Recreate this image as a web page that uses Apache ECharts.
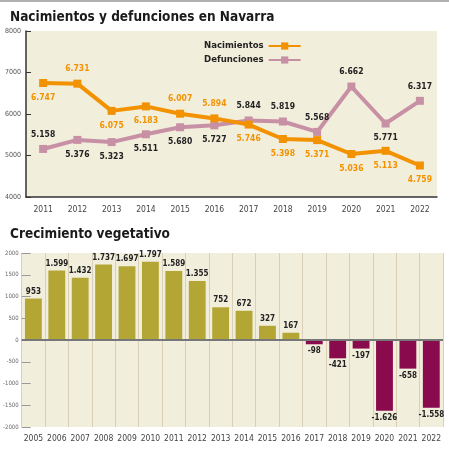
<!DOCTYPE html>
<html>
<head>
<meta charset="utf-8">
<script src="https://cdn.jsdelivr.net/npm/echarts@6/dist/echarts.min.js"></script>
<style>
  html, body { margin: 0; padding: 0; background: #fff; }
  #main { width: 449px; height: 451px; }
</style>
</head>
<body>
<div id="main"></div>
<script>
// datos
var years = ['2011','2012','2013','2014','2015','2016','2017','2018','2019','2020','2021','2022'];
var nacimientos = [6747, 6731, 6075, 6183, 6007, 5894, 5746, 5398, 5371, 5036, 5113, 4759];
var defunciones = [5158, 5376, 5323, 5511, 5680, 5727, 5844, 5819, 5568, 6662, 5771, 6317];
var posNac = ['bottom','top','bottom','bottom','top','top','bottom','bottom','bottom','bottom','bottom','bottom'];
var posDef = ['top','bottom','bottom','bottom','bottom','bottom','top','top','top','top','bottom','top'];

var yearsCrec = ['2005','2006','2007','2008','2009','2010','2011','2012','2013','2014','2015','2016','2017','2018','2019','2020','2021','2022'];
var crecimiento = [953, 1599, 1432, 1737, 1697, 1797, 1589, 1355, 752, 672, 327, 167, -98, -421, -197, -1626, -658, -1558];

var narrow = '"Liberation Sans Narrow", "DejaVu Sans Condensed", sans-serif';

function fmt(v) {
    var s = String(Math.abs(v)).replace(/\B(?=(\d{3})+(?!\d))/g, '.');
    return (v < 0 ? '-' : '') + s;
}

function withPos(vals, pos) {
    return vals.map(function (v, i) {
        return { value: v, label: { position: pos[i] } };
    });
}

var chart = echarts.init(document.getElementById('main'));

var option = {
    backgroundColor: '#fff',
    animation: false,
    graphic: [{
        type: 'rect', left: 0, top: 0,
        shape: { width: 449, height: 2 },
        style: { fill: '#b0b0b0' }
    }],
    title: [{
        text: 'Nacimientos y defunciones en Navarra',
        left: 5, top: 5,
        textStyle: { fontFamily: narrow, fontWeight: 'bold', fontSize: 13.5, color: '#1a1a1a' }
    }, {
        text: 'Crecimiento vegetativo',
        left: 5, top: 222,
        textStyle: { fontFamily: narrow, fontWeight: 'bold', fontSize: 13.5, color: '#1a1a1a' }
    }],
    legend: {
        orient: 'vertical',
        left: 199, top: 36,
        align: 'right',
        itemWidth: 32, itemHeight: 9, itemGap: 4,
        textStyle: { fontFamily: narrow, fontWeight: 'bold', fontSize: 9.5, color: '#222' },
        data: ['Nacimientos', 'Defunciones']
    },
    grid: [{
        left: 26, right: 12, top: 31, height: 166,
        show: true, backgroundColor: '#f2eedc', borderWidth: 0
    }, {
        left: 20, right: 6, top: 253, height: 174,
        show: true, backgroundColor: '#f2eedc', borderWidth: 0
    }],
    xAxis: [{
        type: 'category', gridIndex: 0, data: years, boundaryGap: true,
        axisLine: { lineStyle: { color: '#333', width: 1.5 } },
        axisTick: { inside: true, length: 4, lineStyle: { color: '#333' } },
        axisLabel: { fontFamily: narrow, fontSize: 8.5, color: '#444', margin: 8, interval: 0 }
    }, {
        type: 'category', gridIndex: 1, data: yearsCrec, boundaryGap: true,
        axisLine: { show: false, onZero: false },
        axisTick: { show: false },
        splitLine: { show: true, interval: 0, lineStyle: { color: '#d9d0b7', width: 1 } },
        axisLabel: { fontFamily: narrow, fontSize: 8.5, color: '#444', margin: 7, interval: 0 }
    }],
    yAxis: [{
        type: 'value', gridIndex: 0, min: 4000, max: 8000, interval: 1000,
        axisLine: { show: true, lineStyle: { color: '#333', width: 1.5 } },
        axisTick: { show: true, inside: true, length: 5, lineStyle: { color: '#333' } },
        splitLine: { show: false },
        axisLabel: { fontFamily: narrow, fontSize: 7, color: '#555', margin: 5,
            formatter: function (v) { return String(v); } }
    }, {
        type: 'value', gridIndex: 1, min: -2000, max: 2000, interval: 500,
        axisLine: { show: false },
        axisTick: { show: true, inside: true, length: 9, lineStyle: { color: '#999' } },
        splitLine: { show: false },
        axisLabel: { fontFamily: narrow, fontSize: 6, color: '#666', margin: 3,
            formatter: function (v) { return String(v); } }
    }],
    series: [{
        name: 'Nacimientos', type: 'line', xAxisIndex: 0, yAxisIndex: 0,
        data: withPos(nacimientos, posNac),
        symbol: 'rect', symbolSize: 8,
        itemStyle: { color: '#f39200' },
        lineStyle: { color: '#f39200', width: 4 },
        label: {
            show: true, distance: 6, formatter: function (p) { return fmt(p.value); },
            fontFamily: narrow, fontWeight: 'bold', fontSize: 8.5, color: '#f39200'
        },
        z: 3
    }, {
        name: 'Defunciones', type: 'line', xAxisIndex: 0, yAxisIndex: 0,
        data: withPos(defunciones, posDef),
        symbol: 'rect', symbolSize: 8,
        itemStyle: { color: '#c890a5' },
        lineStyle: { color: '#c890a5', width: 4 },
        label: {
            show: true, distance: 6, formatter: function (p) { return fmt(p.value); },
            fontFamily: narrow, fontWeight: 'bold', fontSize: 8.5, color: '#222'
        },
        z: 2
    }, {
        name: 'Crecimiento', type: 'bar', xAxisIndex: 1, yAxisIndex: 1,
        data: crecimiento.map(function (v) {
            return {
                value: v,
                itemStyle: { color: v >= 0 ? '#b3a635' : '#8a0a4e' },
                label: { position: v >= 0 ? 'top' : 'bottom' }
            };
        }),
        barCategoryGap: '28%',
        label: {
            show: true, distance: 3, formatter: function (p) { return fmt(p.value); },
            fontFamily: narrow, fontWeight: 'bold', fontSize: 8, color: '#222'
        },
        markLine: {
            silent: true, symbol: 'none', label: { show: false },
            lineStyle: { color: '#777', width: 2, type: 'solid' },
            data: [{ yAxis: 0 }]
        }
    }]
};

chart.setOption(option);
</script>
</body>
</html>
